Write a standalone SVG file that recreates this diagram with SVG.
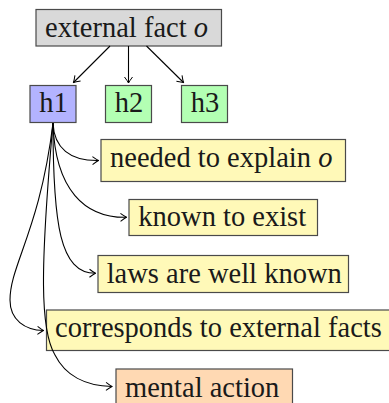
<svg xmlns="http://www.w3.org/2000/svg" width="389" height="403" viewBox="0 0 389 403">
<defs>
<style>
.box{stroke:#4a4a4a;stroke-width:1.2}
.t{font-family:'Liberation Serif',serif;font-size:28.5px;fill:#1a1a1a}
.c{fill:none;stroke:#000;stroke-width:1.1;marker-end:url(#ar)}
</style>
<marker id="ar" viewBox="-6 -5 8 10" markerWidth="8" markerHeight="10" refX="1" refY="0" orient="auto" markerUnits="userSpaceOnUse">
<path d="M-5,-4 Q-1,-1 1,0 Q-1,1 -5,4" fill="none" stroke="#000" stroke-width="1"/>
</marker>
</defs>
<rect width="389" height="403" fill="#fff"/>
<g id="external">
<rect class="box" x="36" y="9.5" width="185.5" height="36.5" fill="#d9d9d9"/>
<text class="t" x="45" y="37">external fact <tspan font-style="italic">o</tspan></text>
</g>
<g id="h1">
<rect class="box" x="30" y="85.5" width="46" height="37" fill="#b3b3ff"/>
<text class="t" x="39.3" y="112.3">h1</text>
</g>
<g id="h2">
<rect class="box" x="105.5" y="85.5" width="46" height="37" fill="#b3ffb3"/>
<text class="t" x="114.8" y="112.3">h2</text>
</g>
<g id="h3">
<rect class="box" x="181.5" y="85.5" width="46" height="37" fill="#b3ffb3"/>
<text class="t" x="190.8" y="112.3">h3</text>
</g>
<g id="needed">
<rect class="box" x="101" y="139.5" width="244.5" height="42" fill="#fff9b8"/>
<text class="t" x="110" y="166.7">needed to explain <tspan font-style="italic">o</tspan></text>
</g>
<g id="known">
<rect class="box" x="129" y="199.5" width="188.5" height="36" fill="#fff9b8"/>
<text class="t" x="138.3" y="226">known to exist</text>
</g>
<g id="laws">
<rect class="box" x="98" y="255.5" width="250.5" height="37" fill="#fff9b8"/>
<text class="t" x="106.7" y="282.7">laws are well known</text>
</g>
<g id="corresponds">
<rect class="box" x="46.5" y="310" width="350" height="40.5" fill="#fff9b8"/>
<text class="t" x="55" y="336.7">corresponds to external facts</text>
</g>
<g id="mental">
<rect class="box" x="116" y="369" width="176.5" height="40" fill="#ffd9b3"/>
<text class="t" x="125" y="396.7">mental action</text>
</g>
<g id="connectors">
<line class="c" x1="110" y1="46" x2="73.5" y2="82.5"/>
<line class="c" x1="128.5" y1="46" x2="128.5" y2="83"/>
<line class="c" x1="146.5" y1="46" x2="183.5" y2="82.5"/>
<path class="c" d="M53,123 C54,148 70,161 98.5,160.5"/>
<path class="c" d="M53,123 C55,190 85,218 126.5,217.3"/>
<path class="c" d="M53,123 C53,225 60,273 95.5,273.3"/>
<path class="c" d="M53,123 C40,230 10,265 10,300 C10,320 25,330 43.5,330.5"/>
<path class="c" d="M53,123 C40,270 40,330 55,355 C65,375 85,386 112,386.5"/>
</g>
</svg>
